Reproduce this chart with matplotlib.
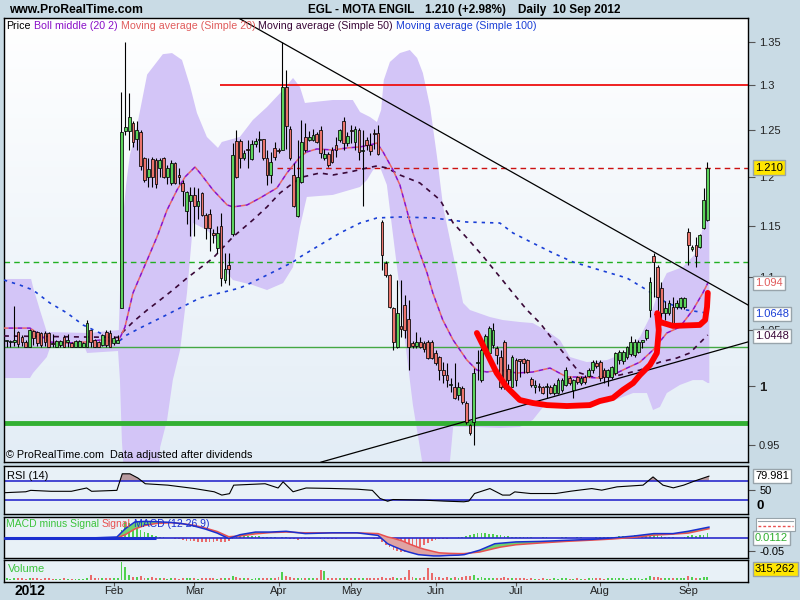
import numpy as np
import matplotlib
matplotlib.use("Agg")
import matplotlib.pyplot as plt
from matplotlib.patches import Rectangle
from matplotlib.ticker import NullLocator, NullFormatter
from matplotlib.transforms import blended_transform_factory

plt.rcParams['font.family'] = ['Liberation Sans', 'DejaVu Sans']

# --- DAILY CANDLES (trading-day index 0 = late Dec 2011, 183 = 10 Sep 2012) ---
opens = [1.040, 1.039, 1.039, 1.048, 1.044, 1.0396, 1.0351, 1.049, 1.0487, 1.0478,
         1.0478, 1.0472, 1.038, 1.0351, 1.0366, 1.0442, 1.0396, 1.038, 1.0351, 1.0351,
         1.0351, 1.0351, 1.0502, 1.0411, 1.0396, 1.0366, 1.0487, 1.0472, 1.0387, 1.0387,
         1.0706, 1.2496, 1.2496, 1.2577, 1.2405, 1.2479, 1.2199, 1.1998, 1.2189, 1.218,
         1.2092, 1.2199, 1.2005, 1.1943, 1.2145, 1.2022, 1.1936, 1.1649, 1.1749, 1.181,
         1.1699, 1.183, 1.1605, 1.1615, 1.1426, 1.1284, 1.1499, 1.0975, 1.1111, 1.1416,
         1.2383, 1.2383, 1.2199, 1.229, 1.2189, 1.2355, 1.2394, 1.2405, 1.2199, 1.2022,
         1.2305, 1.229, 1.2287, 1.2984, 1.2514, 1.2022, 1.1599, 1.1953, 1.243, 1.2394,
         1.2394, 1.2456, 1.2503, 1.2199, 1.2241, 1.2287, 1.2341, 1.2394, 1.2606, 1.2366,
         1.2503, 1.2376, 1.2503, 1.228, 1.2394, 1.2341, 1.247, 1.2474, 1.1542, 1.1134,
         1.1018, 1.0706, 1.0351, 1.0539, 1.0734, 1.0603, 1.038, 1.036, 1.0396, 1.038,
         1.0393, 1.0396, 1.0294, 1.0258, 1.0142, 1.0099, 1.0011, 0.9993, 0.9924, 0.9984,
         0.9855, 0.9668, 0.9693, 1.0205, 1.0054, 1.0321, 1.0294, 1.0366, 1.034, 1.0255,
         1.0396, 1.0148, 0.9996, 1.0231, 1.0231, 1.0237, 1.0231, 1.006, 0.9996, 0.9996,
         0.9996, 0.9991, 0.9996, 0.9938, 0.9938, 0.9967, 1.0011, 1.0068, 0.9967, 1.0077,
         1.0025, 1.0083, 1.0089, 1.0142, 1.0202, 1.0211, 1.0142, 1.0083, 1.0083, 1.0112,
         1.0231, 1.0225, 1.0261, 1.0285, 1.0276, 1.0306, 1.0396, 1.0427, 1.0687, 1.1203,
         1.11, 1.0892, 1.0656, 1.0656, 1.0719, 1.0719, 1.0719, 1.0719, 1.1442, 1.1268,
         1.131, 1.1294, 1.1476, 1.1559]
highs = [1.041, 1.041, 1.072, 1.049, 1.046, 1.041, 1.051, 1.050, 1.049, 1.048,
         1.049, 1.048, 1.047, 1.041, 1.041, 1.046, 1.047, 1.039, 1.041, 1.041,
         1.039, 1.0594, 1.0502, 1.042, 1.040, 1.047, 1.0502, 1.050, 1.045, 1.0457,
         1.2927, 1.3504, 1.2909, 1.2596, 1.2596, 1.2503, 1.2216, 1.2199, 1.2216, 1.2199,
         1.2199, 1.2216, 1.2127, 1.218, 1.216, 1.2092, 1.197, 1.1851, 1.1901, 1.1901,
         1.1885, 1.184, 1.1632, 1.1666, 1.1466, 1.1499, 1.1632, 1.1235, 1.1235, 1.2358,
         1.2503, 1.2405, 1.2287, 1.2394, 1.2394, 1.2412, 1.2496, 1.2405, 1.2287, 1.2269,
         1.2376, 1.231, 1.3504, 1.3174, 1.2541, 1.2145, 1.2394, 1.2612, 1.2577, 1.249,
         1.2514, 1.2485, 1.2541, 1.23, 1.2269, 1.232, 1.243, 1.2514, 1.265, 1.2485,
         1.256, 1.2541, 1.253, 1.2503, 1.243, 1.2467, 1.2514, 1.256, 1.156, 1.115,
         1.103, 1.0715, 1.097, 1.097, 1.0828, 1.0781, 1.040, 1.0484, 1.0438, 1.040,
         1.041, 1.041, 1.0321, 1.027, 1.0213, 1.0205, 1.0072, 1.0205, 1.0037, 1.000,
         0.987, 0.968, 1.016, 1.0321, 1.034, 1.047, 1.0539, 1.0566, 1.036, 1.0321,
         1.0411, 1.020, 1.0276, 1.025, 1.024, 1.025, 1.024, 1.0083, 1.0054, 1.003,
         1.000, 1.0025, 1.0011, 1.003, 1.007, 1.007, 1.017, 1.009, 1.006, 1.009,
         1.009, 1.010, 1.016, 1.0231, 1.0231, 1.0231, 1.016, 1.015, 1.018, 1.030,
         1.032, 1.032, 1.036, 1.045, 1.042, 1.041, 1.041, 1.051, 1.10, 1.1235,
         1.1116, 1.0954, 1.077, 1.078, 1.0812, 1.078, 1.081, 1.081, 1.1476, 1.131,
         1.1393, 1.142, 1.1883, 1.2162]
lows = [1.035, 1.035, 1.036, 1.035, 1.036, 1.035, 1.035, 1.0366, 1.036, 1.035,
        1.036, 1.035, 1.035, 1.035, 1.035, 1.035, 1.035, 1.035, 1.035, 1.035,
        1.035, 1.035, 1.035, 1.035, 1.035, 1.036, 1.035, 1.035, 1.037, 1.038,
        1.0706, 1.245, 1.2287, 1.2323, 1.2287, 1.2075, 1.195, 1.1901, 1.1901, 1.1885,
        1.2005, 1.199, 1.1929, 1.192, 1.193, 1.1929, 1.1699, 1.1515, 1.14, 1.14,
        1.1566, 1.16, 1.1367, 1.1252, 1.1334, 1.1235, 1.0911, 1.0943, 1.0927, 1.14,
        1.199, 1.2092, 1.218, 1.2092, 1.218, 1.2316, 1.2269, 1.218, 1.1919, 1.1936,
        1.218, 1.225, 1.2287, 1.23, 1.218, 1.169, 1.159, 1.194, 1.226, 1.238,
        1.238, 1.236, 1.2199, 1.218, 1.211, 1.215, 1.2216, 1.237, 1.2287, 1.233,
        1.236, 1.2287, 1.218, 1.1699, 1.2287, 1.2234, 1.23, 1.2234, 1.1066, 1.10,
        1.0706, 1.0321, 1.034, 1.0438, 1.043, 1.0142, 1.034, 1.034, 1.034, 1.030,
        1.024, 1.024, 1.019, 1.0054, 1.0028, 0.9993, 0.995, 0.989, 0.9881, 0.985,
        0.968, 0.9584, 0.950, 1.0054, 1.004, 1.030, 1.028, 1.034, 1.020, 0.998,
        0.998, 1.000, 0.999, 1.000, 1.0083, 1.0112, 1.012, 0.999, 0.994, 0.996,
        0.993, 0.9895, 0.993, 0.992, 0.993, 0.995, 1.000, 1.001, 0.9895, 1.002,
        1.001, 1.002, 1.008, 1.012, 1.016, 1.005, 1.003, 1.000, 1.006, 1.010,
        1.020, 1.020, 1.024, 1.027, 1.026, 1.029, 1.034, 1.041, 1.062, 1.0812,
        1.0656, 1.0594, 1.0594, 1.064, 1.055, 1.07, 1.07, 1.07, 1.1116, 1.125,
        1.11, 1.128, 1.147, 1.155]
closes = [1.040, 1.040, 1.041, 1.0375, 1.0396, 1.0351, 1.0502, 1.0427, 1.038, 1.0366,
          1.0396, 1.0351, 1.0375, 1.0402, 1.040, 1.0351, 1.0396, 1.0351, 1.0402, 1.0402,
          1.038, 1.0563, 1.0396, 1.0351, 1.0351, 1.0457, 1.0366, 1.0351, 1.0427, 1.0411,
          1.248, 1.2535, 1.2642, 1.2376, 1.2503, 1.2117, 1.197, 1.2082, 1.1998, 1.1929,
          1.218, 1.1998, 1.2092, 1.2145, 1.1936, 1.2005, 1.1851, 1.184, 1.181, 1.1706,
          1.1749, 1.1605, 1.1476, 1.1476, 1.141, 1.1426, 1.0991, 1.1072, 1.1072, 1.2234,
          1.1998, 1.2199, 1.2252, 1.2287, 1.2348, 1.2387, 1.2394, 1.2199, 1.2022, 1.2163,
          1.2216, 1.228, 1.2984, 1.2541, 1.2199, 1.1699, 1.2005, 1.2376, 1.2287, 1.243,
          1.2449, 1.2376, 1.2252, 1.2241, 1.2127, 1.2163, 1.2287, 1.2503, 1.2366, 1.2441,
          1.2496, 1.2514, 1.2269, 1.2287, 1.2341, 1.228, 1.246, 1.2245, 1.1212, 1.1018,
          1.0715, 1.0393, 1.0662, 1.0512, 1.0502, 1.0348, 1.036, 1.0396, 1.0351, 1.033,
          1.0249, 1.0249, 1.0205, 1.0142, 1.0099, 1.0054, 1.002, 0.9898, 0.9993, 0.9864,
          0.9693, 0.9601, 1.0116, 1.0205, 1.0321, 1.045, 1.052, 1.0502, 1.0276, 0.9996,
          0.9996, 1.0054, 1.0255, 1.0054, 1.0225, 1.0202, 1.0127, 1.0011, 0.9996, 0.9991,
          0.9938, 0.9991, 0.9944, 1.0011, 1.0054, 1.0054, 1.0142, 1.0025, 1.0054, 1.0039,
          1.0074, 1.0039, 1.0142, 1.0211, 1.018, 1.0068, 1.0083, 1.0142, 1.0172, 1.0291,
          1.0306, 1.0306, 1.0351, 1.0396, 1.0396, 1.0396, 1.0396, 1.0502, 1.0954, 1.1148,
          1.0812, 1.0656, 1.0703, 1.075, 1.0563, 1.075, 1.0797, 1.0797, 1.131, 1.1294,
          1.12, 1.141, 1.1763, 1.210]
volume_k = [150, 120, 250, 180, 150, 100, 200, 150, 130, 120, 150, 180, 100, 90, 110,
            130, 80, 100, 120, 90, 100, 250, 600, 200, 150, 180, 220, 160, 140, 200,
            2200, 1500, 600, 350, 300, 400, 250, 200, 300, 200, 150,
            150, 120, 200, 130, 100, 150, 200, 180, 150, 120, 130, 160, 140, 180, 120,
            200, 250, 150, 400, 300,
            200, 150, 180, 120, 150, 130, 160, 200, 150, 180, 350, 900, 450, 300, 250,
            200, 180, 150, 160, 200,
            180, 1200, 1000, 250, 200, 150, 180, 250, 200, 150, 180, 200, 150, 200, 170,
            150, 200, 300, 250, 200,
            300, 250, 200, 350, 1200, 300, 250, 200, 350, 1450, 800, 350, 300, 250, 300,
            200, 350, 250, 300, 450,
            400, 500, 250, 300, 200, 250, 200, 150, 250, 300, 200, 180, 150, 250, 150,
            120, 200, 100, 120, 150,
            100, 120, 150, 100, 150, 200, 120, 100, 130, 100, 120, 150, 200, 150, 130,
            120, 150, 200, 180, 150,
            150, 120, 180, 200, 150, 100, 250, 400, 350, 300, 250, 150, 200, 250, 180,
            150, 200, 450, 300, 250, 200, 350, 315]
macd_hist = [0, 0, 0, 0, 0, 0, 0, 0, 0, 0, 0, 0, 0, 0, 0, 0, 0, 0, 0, 0.002,
             0.002, 0.002, 0.002, 0.002, 0.002, 0.002, 0.002, 0, 0, 0,
             0.03, 0.06, 0.058, 0.05, 0.04, 0.03, 0.025, 0.02, 0.012, 0.008, 0.005,
             0.003, 0.002, 0, -0.003, -0.005, -0.008,
             -0.01, -0.012, -0.013, -0.014, -0.015, -0.016, -0.015, -0.014, -0.012, -0.015,
             -0.016, -0.012, -0.005, 0.004, 0.006, 0.008,
             0.008, 0.008, 0.007, 0.006, 0.005, 0.004, 0.003, 0.003, 0.002,
             0.004, 0.003, -0.002, -0.005, -0.006, -0.004, -0.003, -0.002, 0, 0.001,
             -0.003, -0.004, -0.004, -0.003, -0.002, 0, 0.001, 0.002,
             0.002, 0.002, 0.001, 0.001, 0, 0, -0.002, -0.004,
             -0.015, -0.025, -0.035, -0.045, -0.05, -0.054, -0.054, -0.052, -0.048, -0.042,
             -0.035, -0.028, -0.02, -0.012, -0.006,
             -0.005, -0.003, -0.002, 0, 0,
             0.003, 0.005, 0.008, 0.01, 0.014, 0.018, 0.02, 0.019, 0.017, 0.015,
             0.012, 0.01, 0.008, 0.006, 0.005,
             0.004, 0.004, 0.003, 0.003, 0.003, 0.002, 0.002, 0.003, 0.003, 0.002,
             0.002, 0.002, 0.003, 0.003, 0.002, 0.002, 0.003, 0.003, 0.002, 0.002,
             0.002, 0.003, 0.004, 0.004, 0.003, 0.004, 0.005,
             0.006, 0.007, 0.008, 0.009, 0.01, 0.01, 0.011, 0.013, 0.016, 0.014, 0.01,
             0.007, 0.005, 0.004, 0.003, 0.002, 0.002, 0.003,
             0.008, 0.01, 0.009, 0.01, 0.013, 0.018]

# --- INDICATOR LINES (read at sample points) ---
ma20_i = [-0.7, 6.1, 6.9, 8.7, 11.3, 15.8, 20.5, 24.4, 29.1, 30.9, 33.0, 36.7, 39.3, 41.9, 44.5,
          46.6, 49.2, 50.5, 53.9, 57.6, 59.1, 62.8, 66.2, 70.6, 73.2, 76.6, 78.4, 81.0, 85.2, 88.9,
          92.3, 94.9, 96.7, 98.3, 100.9, 102.7, 104.5, 106.1, 107.9, 109.8, 111.3, 113.9, 116.6,
          120.2, 122.8, 125.4, 128.8, 133.3, 137.4, 141.9, 146.3, 149.7, 154.9, 158.3, 162.0,
          165.4, 168.8, 172.4, 175.8, 179.2, 181.8, 183.1]
ma20_p = [1.0520, 1.0520, 1.0502, 1.0457, 1.0393, 1.0384, 1.0393, 1.0411, 1.0393, 1.0529,
          1.0847, 1.1163, 1.1393, 1.1661, 1.1866, 1.2002, 1.2106, 1.2043, 1.1866, 1.1712,
          1.1692, 1.1712, 1.1784, 1.1887, 1.2043, 1.2212, 1.2266, 1.2298, 1.2287, 1.2309,
          1.2320, 1.2341, 1.2362, 1.2266, 1.2075, 1.1918, 1.1661, 1.1430, 1.1231, 1.1037,
          1.0847, 1.0594, 1.0411, 1.0231, 1.0142, 1.0125, 1.0142, 1.0116, 1.0125, 1.0160,
          1.0081, 1.0081, 1.0072, 1.0099, 1.0160, 1.0213, 1.0321, 1.0475, 1.0530, 1.0687,
          1.0847, 1.0941]
ma50_i = [-0.7, 29.1, 30.1, 33.0, 36.7, 40.1, 43.4, 47.1, 50.5, 53.9, 59.1, 64.3, 68.0, 71.4,
          74.8, 77.4, 81.8, 85.2, 89.7, 94.1, 96.7, 99.3, 102.7, 107.9, 113.2, 116.6, 120.2,
          124.4, 128.8, 132.2, 135.9, 139.3, 142.7, 146.3, 149.7, 153.1, 156.8, 160.2, 165.4,
          170.6, 175.0, 178.4, 181.0, 183.1]
ma50_p = [1.0448, 1.0435, 1.0475, 1.0576, 1.0687, 1.0781, 1.0875, 1.0989, 1.1085, 1.1182,
          1.1390, 1.1559, 1.1692, 1.1835, 1.1939, 1.2002, 1.2043, 1.2022, 1.2054, 1.2096,
          1.2117, 1.2096, 1.2022, 1.1939, 1.1763, 1.1530, 1.1380, 1.1200, 1.1000, 1.0847,
          1.0687, 1.0566, 1.0411, 1.0258, 1.0116, 1.0081, 1.0081, 1.0099, 1.0142, 1.0213,
          1.0249, 1.0294, 1.0384, 1.0457]
ma100_i = [-0.7, 3.5, 6.9, 11.3, 15.8, 20.0, 24.4, 27.0, 29.1, 31.4, 34.8, 40.1, 45.3, 50.5,
           55.7, 60.9, 64.3, 69.6, 74.8, 76.6, 81.8, 87.1, 92.3, 96.7, 102.7, 111.3, 120.2,
           128.8, 132.2, 137.4, 142.7, 147.9, 154.9, 162.0, 167.2, 172.4, 177.6, 182.9]
ma100_p = [1.0970, 1.0922, 1.0875, 1.0753, 1.0659, 1.0548, 1.0475, 1.0411, 1.0393, 1.0457,
           1.0520, 1.0612, 1.0706, 1.0800, 1.0847, 1.0894, 1.0951, 1.1047, 1.1144, 1.1192,
           1.1310, 1.1430, 1.1529, 1.1580, 1.1590, 1.1580, 1.1539, 1.1529, 1.1430, 1.1330,
           1.1231, 1.1144, 1.1066, 1.0989, 1.0875, 1.0753, 1.0687, 1.0659]
bb_up_i = [-0.7, 6.4, 6.9, 8.7, 10.5, 21.5, 29.3, 30.1, 31.2, 32.2, 34.0, 36.7, 40.8, 43.2,
           45.8, 47.9, 49.7, 52.3, 55.2, 56.2, 60.9, 64.3, 68.0, 72.2, 74.8, 76.6, 77.9, 85.2,
           90.4, 92.3, 94.9, 96.7, 97.8, 98.5, 100.1, 102.7, 105.3, 107.2, 108.7, 110.6, 112.4,
           114.0, 115.8, 117.6, 119.2, 121.0, 126.2, 129.6, 134.0, 137.4, 139.3, 141.9, 144.5,
           147.1, 151.5, 156.8, 162.0, 165.4, 168.0, 170.6, 172.4, 176.6, 180.3, 181.8, 183.1, 183.5]
bb_up_p = [1.0980, 1.0980, 1.0903, 1.0687, 1.0484, 1.0475, 1.0502, 1.1459, 1.1918, 1.2233,
           1.2535, 1.3122, 1.3357, 1.3370, 1.3290, 1.2993, 1.2690, 1.2427, 1.2309, 1.2373,
           1.2427, 1.2612, 1.2756, 1.2947, 1.3083, 1.2981, 1.2801, 1.2834, 1.2834, 1.2700,
           1.2645, 1.2590, 1.2723, 1.3060, 1.3267, 1.3370, 1.3406, 1.3313, 1.3140, 1.2756,
           1.2212, 1.1692, 1.1360, 1.1037, 1.0753, 1.0687, 1.0622, 1.0594, 1.0576, 1.0566,
           1.0529, 1.0475, 1.0411, 1.0258, 1.0213, 1.0231, 1.0303, 1.0439, 1.0622, 1.0903,
           1.1037, 1.1095, 1.1241, 1.1479, 1.1590, 1.1590]
bb_lo_i = [-0.7, 6.1, 6.9, 10.5, 11.3, 20.5, 21.0, 29.1, 29.6, 30.1, 30.7, 39.6, 40.1, 41.9,
           43.4, 45.3, 47.1, 48.7, 52.3, 54.9, 57.6, 59.1, 64.3, 68.0, 72.2, 74.8, 76.6, 78.4,
           85.2, 92.3, 94.1, 95.7, 97.5, 99.3, 100.9, 102.7, 104.0, 106.1, 107.9, 109.2, 114.5,
           115.8, 116.6, 122.8, 128.8, 134.0, 137.4, 140.1, 144.5, 151.5, 156.8, 163.6, 167.2,
           168.8, 170.6, 172.4, 175.8, 179.2, 181.8, 183.1, 183.5]
bb_lo_p = [1.0072, 1.0072, 1.0116, 1.0258, 1.0339, 1.0339, 1.0294, 1.0312, 1.0054, 0.9542,
           0.9230, 0.9230, 0.9484, 0.9710, 1.0054, 1.0321, 1.0847, 1.1529, 1.1459, 1.1360,
           1.1037, 1.0970, 1.0922, 1.0875, 1.0941, 1.1095, 1.1489, 1.1794, 1.1815, 1.1897,
           1.1970, 1.2075, 1.2106, 1.1918, 1.1410, 1.0875, 1.0411, 0.9838, 0.9484, 0.9230,
           0.9230, 0.9377, 0.9651, 0.9651, 0.9643, 0.9651, 0.9710, 0.9821, 0.9821, 0.9838,
           0.9855, 0.9941, 0.9941, 0.9795, 0.9821, 0.9941, 1.0011, 1.0054, 1.0054, 1.0028, 1.0028]
rsi_i = [-0.7, 5, 6.3, 11.6, 16.9, 20.9, 22.2, 28.8, 30.2, 32.2, 34.3, 36.2, 42.1, 48.9, 54.2,
         56.2, 58.2, 59.3, 67.5, 70.9, 72.2, 74.8, 78.2, 84.9, 91.5, 95.5, 97.5, 99.5, 100.9,
         108.9, 114.2, 119.4, 120.7, 122.2, 126.2, 129.5, 131.4, 132.7, 136.8, 143.4, 147.4,
         152.8, 155.4, 159.4, 166.2, 168.8, 171.4, 174.1, 176.8, 179.5, 183.4]
rsi_v = [45, 47, 50, 48, 48, 55, 48, 50, 85, 85, 76, 64, 61, 54, 47, 40, 43, 61, 64, 55, 68,
         47, 55, 54, 52.5, 50, 33, 27, 30.6, 29.3, 27.3, 25.8, 27.3, 43.3, 53.8, 40, 40, 46.8,
         43.3, 43.3, 48.3, 53.8, 50.4, 57.4, 61, 78.4, 61, 55.3, 61, 69.3, 80]
macd_i = [-0.7, 18, 28.8, 31, 33.5, 36, 39, 43, 46, 49, 52, 55, 58, 61, 65, 69, 73, 78, 85, 91.5,
          97, 99.5, 101, 103.5, 105, 107.5, 109, 111.5, 113, 115.5, 118, 119.5, 123.5, 127.5,
          129, 133, 139.5, 146, 153, 158, 164, 169, 174, 178, 183.4]
macd_line = [-0.002, -0.002, 0.004, 0.036, 0.062, 0.064, 0.063, 0.060, 0.055, 0.046, 0.034,
             0.019, -0.002, 0.013, 0.023, 0.023, 0.026, 0.017, 0.020, 0.020, 0.010, -0.022,
             -0.032, -0.047, -0.054, -0.064, -0.066, -0.069, -0.069, -0.067, -0.066, -0.064,
             -0.047, -0.022, -0.020, -0.015, -0.013, -0.009, -0.005, 0.000, 0.008, 0.017,
             0.017, 0.026, 0.042]
signal_line = [-0.002, -0.002, 0.000, 0.013, 0.035, 0.048, 0.056, 0.059, 0.055, 0.049, 0.038,
               0.025, 0.005, 0.008, 0.016, 0.021, 0.023, 0.020, 0.020, 0.020, 0.017, 0.004,
               -0.001, -0.012, -0.022, -0.036, -0.043, -0.052, -0.057, -0.059, -0.060, -0.060,
               -0.054, -0.040, -0.035, -0.026, -0.019, -0.013, -0.008, -0.004, 0.003, 0.011,
               0.015, 0.019, 0.036]

# --- DRAWN OBJECTS ---
trend_down_i = [60.5, 193.6]
trend_down_p = [1.3786, 1.0734]
trend_up_i = [82.1, 193.6]
trend_up_p = [0.936, 1.0394]
cup_i = [122.8, 125.4, 128.0, 130.6, 134.0, 137.4, 141.1, 146.3, 152.3, 154.9, 158.3, 160.9,
         163.6, 165.4, 168.0, 169.8, 170.3, 169.9, 170.6, 174.0, 181.0, 182.4, 182.9, 183.1]
cup_p = [1.0475, 1.0294, 1.0115, 0.9993, 0.9881, 0.9855, 0.9837, 0.9829, 0.9837, 0.9872,
         0.9898, 0.9967, 1.0028, 1.0099, 1.0187, 1.0294, 1.0502, 1.0658, 1.0576, 1.0540,
         1.0549, 1.0594, 1.0715, 1.0848]
month_idx = [6, 28, 49, 71, 90, 112, 133, 155, 178]
month_lbl = ['2012', 'Feb', 'Mar', 'Apr', 'May', 'Jun', 'Jul', 'Aug', 'Sep']
price_ticks = [0.95, 1.0, 1.05, 1.1, 1.15, 1.2, 1.25, 1.3, 1.35]
price_tick_lbl = ['0.95', '1', '1.05', '1.1', '1.15', '1.2', '1.25', '1.3', '1.35']

# --- STYLE ---
W, H = 800, 600
GREEN = '#5cd45c'
RED = '#ea746c'
BOLL = '#d3c5f7'
PANEL_BG = '#e8f1f7'
XMIN, XMAX = -0.68, 193.6

fig = plt.figure(figsize=(8, 6), dpi=100)
fig.patch.set_facecolor('#c9dbe5')
renderer = fig.canvas.get_renderer()


def panel(top, bottom, zorder=1):
    return fig.add_axes([4 / W, 1 - bottom / H, 744 / W, (bottom - top) / H], zorder=zorder)


def ptext(x, y, s, **kw):
    kw.setdefault('va', 'center')
    return fig.text(x / W, 1 - y / H, s, **kw)


def text_row(items, y, size, gap=3):
    # items: (preferred x in px, text, colour); pushed right if they would overlap
    end = 0
    for x, s, col in items:
        x = max(x, end + gap)
        t = ptext(x, y, s, fontsize=size, color=col, ha='left', zorder=30)
        end = x + t.get_window_extent(renderer).width


def value_box(a, y, s, fc, tc, coords='data'):
    tr = blended_transform_factory(a.transAxes, a.transData if coords == 'data' else a.transAxes)
    a.text(1.0094, y, s, transform=tr, ha='left', va='center', color=tc, fontsize=8,
           clip_on=False, zorder=20,
           bbox=dict(boxstyle='square,pad=0.2', fc=fc, ec='#98a4ab', lw=1))


# main panel gradient background
bg = panel(18, 462, zorder=0)
grad = np.linspace(0, 1, 200)[:, None, None]
top_c = np.array([1.0, 1.0, 1.0])
bot_c = np.array([0.89, 0.93, 0.965])
bg.imshow(top_c + (bot_c - top_c) * grad, aspect='auto', extent=[0, 1, 0, 1])
bg.axis('off')

ax = panel(18, 462, zorder=1)
ax.patch.set_alpha(0)
ax.set_yscale('log')

# bollinger band
ax.fill(np.r_[bb_up_i, bb_lo_i[::-1]], np.r_[bb_up_p, bb_lo_p[::-1]], color=BOLL, lw=0, zorder=1)

# horizontal levels
ax.axhline(1.1145, color='#22b022', lw=1, ls=(0, (4, 3)), zorder=2)
ax.axhline(1.0345, color='#44a844', lw=1, zorder=2)
ax.axhline(0.9685, color='#33b033', lw=3.5, zorder=2)
ax.hlines(1.30, 55.7, XMAX, color='#ee1111', lw=1.3, zorder=2)
ax.hlines(1.21, 70.6, XMAX, color='#cc1111', lw=1, ls=(0, (4, 3)), zorder=2)

# moving averages
ax.plot(ma100_i, ma100_p, color='#1a3fd6', lw=1.2, ls=(0, (2, 3)), zorder=3)
ax.plot(ma50_i, ma50_p, color='#3a0838', lw=1.2, ls=(0, (3, 3)), zorder=3)
ax.plot(ma20_i, ma20_p, color='#e86464', lw=1.1, ls=(0, (3, 3)), zorder=3)
ax.plot(ma20_i, ma20_p, color='#8a10c8', lw=1.1, ls=(3, (3, 3)), zorder=3)

# trend lines
ax.plot(trend_down_i, trend_down_p, color='black', lw=0.9, zorder=3)
ax.plot(trend_up_i, trend_up_p, color='black', lw=0.9, zorder=3)

# candles
idx = np.arange(len(closes))
o = np.array(opens)
c = np.array(closes)
up = c >= o
ax.vlines(idx, lows, highs, color='black', lw=0.8, zorder=4)
body_lo = np.minimum(o, c)
body_h = np.maximum(np.abs(c - o), 0.0012)
ax.bar(idx, body_h, bottom=body_lo, width=0.72, color=np.where(up, GREEN, RED),
       edgecolor='black', linewidth=0.55, zorder=5)

# hand-drawn cup and handle
ax.plot(cup_i, cup_p, color='#ff0000', lw=4.2, solid_capstyle='round',
        solid_joinstyle='round', zorder=8)

ax.set_xlim(XMIN, XMAX)
ax.set_ylim(0.9361, 1.3785)
ax.set_xticks([])
ax.yaxis.tick_right()
ax.yaxis.set_minor_locator(NullLocator())
ax.yaxis.set_minor_formatter(NullFormatter())
ax.set_yticks(price_ticks)
ax.set_yticklabels(price_tick_lbl)
ax.tick_params(axis='y', length=5, width=0.8, color='#555555', labelsize=8, pad=3,
               labelcolor='#222222')
for lab in ax.get_yticklabels():
    if lab.get_text() == '1':
        lab.set_fontweight('bold')
        lab.set_fontsize(9.5)

value_box(ax, 1.21, '1.210', '#ffe600', 'black')
value_box(ax, 1.094, '1.094', 'white', '#e05c5c')
value_box(ax, 1.0648, '1.0648', 'white', '#1a3fd6')
value_box(ax, 1.0448, '1.0448', 'white', '#3a0838')

# --- RSI ---
ax_rsi = panel(466, 514)
ax_rsi.set_facecolor(PANEL_BG)
rv = np.array(rsi_v)
ax_rsi.fill_between(rsi_i, rv, 70, where=rv > 70, interpolate=True, color='#b89a9e', lw=0)
ax_rsi.fill_between(rsi_i, rv, 30, where=rv < 30, interpolate=True, color='#93b993', lw=0)
ax_rsi.axhline(70, color='#2a2acc', lw=1.2)
ax_rsi.axhline(30, color='#2a2acc', lw=1.2)
ax_rsi.plot(rsi_i, rv, color='black', lw=0.8)
ax_rsi.set_xlim(XMIN, XMAX)
ax_rsi.set_ylim(0, 101.5)
ax_rsi.set_xticks([])
ax_rsi.yaxis.tick_right()
ax_rsi.set_yticks([50])
ax_rsi.set_yticklabels(['50'])
ax_rsi.tick_params(axis='y', length=5, width=0.8, color='#555555', labelsize=8, pad=3)
ax_rsi.text(1.012, 17, '0', transform=blended_transform_factory(ax_rsi.transAxes, ax_rsi.transData),
            ha='left', va='center', fontsize=9.5, fontweight='bold', clip_on=False)
value_box(ax_rsi, 80, '79.981', 'white', 'black')
ax_rsi.text(0.004, 0.9, 'RSI (14)', transform=ax_rsi.transAxes, fontsize=8, va='top', ha='left')

# --- MACD ---
ax_macd = panel(517, 558)
ax_macd.set_facecolor(PANEL_BG)
hist = np.array(macd_hist)
ax_macd.bar(idx, hist, width=0.45, color=np.where(hist >= 0, '#4fd04f', '#ea6a6a'), lw=0, zorder=2)
ml = np.array(macd_line)
sl = np.array(signal_line)
ax_macd.fill_between(macd_i, ml, sl, where=ml >= sl, interpolate=True, color='#6fd26f', lw=0, zorder=3)
ax_macd.fill_between(macd_i, ml, sl, where=ml < sl, interpolate=True, color='#e0a3a3', lw=0, zorder=3)
ax_macd.axhline(0, color='#2a2acc', lw=1.2, zorder=2)
ax_macd.plot(macd_i, sl, color='#e85050', lw=1.1, zorder=4)
ax_macd.plot(macd_i, ml, color='#1a2fd0', lw=1.1, zorder=5)
ax_macd.hlines(0, XMIN, 39, color='#1a2fd0', lw=2.2, zorder=5)
ax_macd.set_xlim(XMIN, XMAX)
ax_macd.set_ylim(-0.077, 0.081)
ax_macd.set_xticks([])
ax_macd.yaxis.tick_right()
ax_macd.set_yticks([-0.05])
ax_macd.set_yticklabels(['-0.05'])
ax_macd.tick_params(axis='y', length=5, width=0.8, color='#555555', labelsize=8, pad=3)
value_box(ax_macd, 0, '0.0112', 'white', '#2fae2f')
# stacked value boxes at the top right of the MACD panel
fig.add_artist(Rectangle((756 / W, 1 - 531 / H), 39 / W, 13 / H, transform=fig.transFigure,
                         fc='white', ec='#98a4ab', lw=0.8, zorder=25))
fig.add_artist(plt.Line2D([758 / W, 793 / W], [1 - 521 / H, 1 - 521 / H], transform=fig.transFigure,
                          color='#98a4ab', lw=0.8, zorder=26))
fig.add_artist(plt.Line2D([758 / W, 793 / W], [1 - 526 / H, 1 - 526 / H], transform=fig.transFigure,
                          color='#e85050', lw=1, ls=(0, (2, 1.5)), zorder=26))

# --- VOLUME ---
ax_vol = panel(560, 582)
ax_vol.set_facecolor(PANEL_BG)
ax_vol.bar(idx, volume_k, width=0.5, color=np.where(up, '#4fd04f', '#ea6a6a'), lw=0)
ax_vol.set_xlim(XMIN, XMAX)
ax_vol.set_ylim(-300, 2400)
ax_vol.set_yticks([])
ax_vol.set_xticks(month_idx)
ax_vol.set_xticklabels([])
ax_vol.tick_params(axis='x', length=3, width=0.8, color='#555555')
xlab_tr = blended_transform_factory(ax_vol.transData, ax_vol.transAxes)
for i, s in zip(month_idx, month_lbl):
    bold = s == '2012'
    ax_vol.text(i, -0.42, s, transform=xlab_tr, ha='center', va='center', clip_on=False,
                fontsize=10 if bold else 8, fontweight='bold' if bold else 'normal',
                color='black' if bold else '#222222')
value_box(ax_vol, 0.6, '315,262', '#ffe600', 'black', coords='axes')
ax_vol.text(0.005, 0.6, 'Volume', transform=ax_vol.transAxes, fontsize=8, va='center',
            ha='left', color='#3cc43c')

for a in (ax, ax_rsi, ax_macd, ax_vol):
    for sp in a.spines.values():
        sp.set_color('black')
        sp.set_linewidth(1)

# --- HEADER / LEGEND TEXT ---
ptext(9, 10, 'www.ProRealTime.com', fontsize=8.7, fontweight='bold', ha='left')
ptext(361, 10, 'EGL - MOTA ENGIL', fontsize=8.5, fontweight='bold', ha='center')
ptext(465, 10, '1.210 (+2.98%)', fontsize=8.5, fontweight='bold', ha='center')
ptext(569, 10, 'Daily  10 Sep 2012', fontsize=8.5, fontweight='bold', ha='center')

text_row([(6, 'Price', 'black'), (34, 'Boll middle (20 2)', '#8a10c8'),
          (118, 'Moving average (Simple 20)', '#e05c5c'),
          (255, 'Moving average (Simple 50)', '#3a0838'),
          (393, 'Moving average (Simple 100)', '#1a3fd6')], 26, 7.7)
text_row([(6, 'MACD minus Signal', '#3cc43c'), (102, 'Signal', '#e85050'),
          (134, 'MACD (12 26 9)', '#1a2fd0')], 524, 7.5, gap=2)
ptext(6, 455, '\u00a9 ProRealTime.com  Data adjusted after dividends', fontsize=7.8,
      ha='left', zorder=30)

fig.savefig('out.png', dpi=100, facecolor=fig.get_facecolor())
